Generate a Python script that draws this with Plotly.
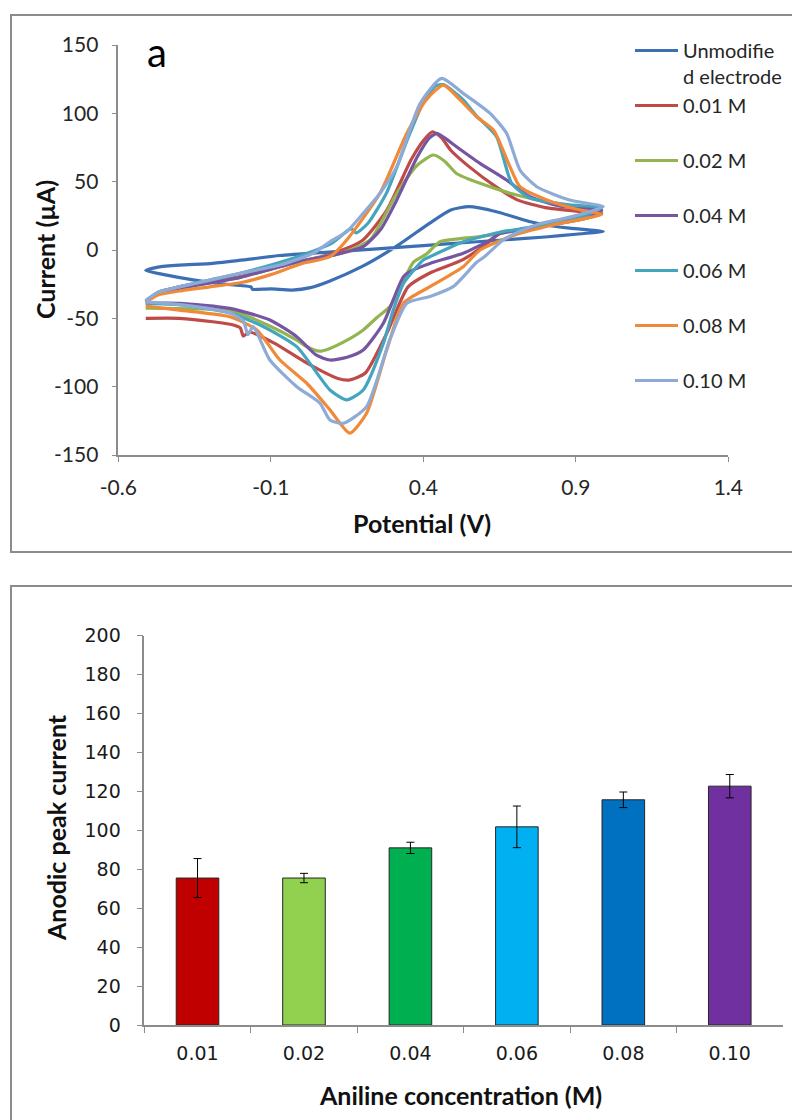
import plotly.graph_objects as go

# ---------------- Top chart: cyclic voltammograms (potential in V, current in µA) ----------------
E_unmod = [-0.51, -0.47, -0.40, -0.29, -0.18, -0.07, 0.09, 0.26, 0.40, 0.53, 0.67, 0.80, 0.90, 0.99,
           0.95, 0.88, 0.80, 0.73, 0.64, 0.55, 0.49, 0.42, 0.31, 0.20, 0.09, 0.03, -0.03, -0.10, -0.14,
           -0.16, -0.165, -0.20, -0.25, -0.35, -0.45, -0.51]
I_unmod = [-15, -12.5, -11, -9.8, -7, -4, -1.5, 1, 3.2, 5.3, 7.5, 9.5, 11.5, 13.5,
           14.5, 16, 18.3, 22, 28, 31.7, 29.3, 19.5, 2.4, -12, -23, -27.5, -29.3, -28.5, -28.8,
           -28.8, -27, -26, -25, -22, -18, -15]

E_001 = [-0.51, -0.47, -0.40, -0.30, -0.20, -0.10, 0.00, 0.10, 0.20, 0.28, 0.36, 0.40, 0.43, 0.46, 0.49,
         0.55, 0.64, 0.71, 0.80, 0.90, 0.985,
         0.93, 0.86, 0.75, 0.65, 0.61, 0.53, 0.42, 0.35, 0.28, 0.21, 0.16, 0.12, 0.02, -0.09, -0.17,
         -0.19, -0.20, -0.22, -0.29, -0.40, -0.51]
I_001 = [-38, -31, -27, -23, -19.5, -14, -8, -3, 7, 29, 66, 80, 86.5, 82, 73,
         61, 46, 36.5, 31, 28.5, 27,
         23, 20, 16, 12, 5, -7, -17, -27, -61, -90, -95, -94, -83, -68, -60,
         -63, -57, -55, -52.5, -50, -50]

E_002 = [-0.51, -0.47, -0.40, -0.30, -0.20, -0.10, 0.00, 0.13, 0.225, 0.313, 0.38, 0.433, 0.47, 0.509,
         0.586, 0.706, 0.86, 0.985,
         0.93, 0.86, 0.75, 0.65, 0.586, 0.455, 0.41, 0.367, 0.33, 0.29, 0.25, 0.203, 0.15, 0.094, 0.06,
         0.02, -0.015, -0.10, -0.234, -0.35, -0.51]
I_002 = [-38, -32, -28, -24, -20, -14, -8, -2.4, 7.3, 41.5, 62, 69.5, 65, 56,
         48.8, 40.2, 33, 29,
         23, 20, 16, 12, 9.8, 6, -3, -9, -25, -41.5, -49, -58.5, -66, -72, -74,
         -71, -66, -56, -44, -43, -42.5]

E_004 = [-0.51, -0.47, -0.40, -0.30, -0.20, -0.10, 0.00, 0.10, 0.203, 0.26, 0.313, 0.38, 0.42, 0.444,
         0.47, 0.509, 0.586, 0.673, 0.75, 0.85, 0.985,
         0.93, 0.86, 0.75, 0.65, 0.619, 0.531, 0.422, 0.367, 0.335, 0.269, 0.203, 0.15, 0.094, 0.05,
         -0.015, -0.103, -0.234, -0.40, -0.51]
I_004 = [-38, -32, -28, -24, -20, -14, -8, -4, 2.4, 15, 36.6, 68, 82, 85.4,
         82, 75.6, 63.4, 51.2, 39, 32, 29,
         24, 21, 16, 12, 7.3, -2.4, -9.8, -14.6, -19.5, -53.6, -73.2, -78.5, -80.5, -77,
         -63.4, -51.2, -42.7, -39, -39]

E_006 = [-0.51, -0.47, -0.40, -0.30, -0.20, -0.10, 0.00, 0.10, 0.154, 0.165, 0.18, 0.22, 0.28, 0.35,
         0.40, 0.44, 0.466, 0.53, 0.575, 0.64, 0.69, 0.75, 0.88, 0.985,
         0.93, 0.86, 0.75, 0.65, 0.531, 0.422, 0.40, 0.335, 0.30, 0.269, 0.203, 0.149, 0.094, -0.015,
         -0.125, -0.234, -0.40, -0.51]
I_006 = [-37, -31, -27, -22, -17, -11, -4, 5, 14.6, 15.5, 12.5, 20, 42, 82,
         108, 120, 121, 110, 98, 83, 48.8, 38, 33, 31,
         25, 21, 16.5, 13, 6, -4.9, -7.3, -24.4, -45, -68.3, -102.4, -109.7, -102.4, -70.7,
         -56, -46, -40, -39]

E_008 = [-0.51, -0.47, -0.40, -0.30, -0.20, -0.10, 0.00, 0.094, 0.149, 0.258, 0.346, 0.41, 0.466, 0.52,
         0.575, 0.63, 0.684, 0.717, 0.805, 0.90, 0.985,
         0.93, 0.86, 0.80, 0.70, 0.586, 0.531, 0.422, 0.335, 0.28, 0.214, 0.159, 0.094, 0.018, -0.07,
         -0.146, -0.234, -0.40, -0.51]
I_008 = [-38, -33, -30, -27, -24, -18, -10, -4.9, 7.3, 41.5, 85.4, 110, 120.7, 110,
         97.5, 87.8, 61, 46.3, 36.6, 30, 26,
         23, 20, 17, 11, 0, -12.2, -26.8, -39, -73.2, -119.5, -134, -117, -97.5, -80.5,
         -58.5, -48.8, -44, -41]

E_010 = [-0.51, -0.47, -0.40, -0.30, -0.20, -0.07, 0.039, 0.094, 0.149, 0.203, 0.258, 0.313, 0.389,
         0.46, 0.531, 0.619, 0.673, 0.717, 0.772, 0.88, 0.99,
         0.93, 0.86, 0.78, 0.72, 0.662, 0.60, 0.575, 0.498, 0.422, 0.346, 0.29, 0.214, 0.138, 0.094,
         0.061, -0.015, -0.103, -0.158, -0.175, -0.19, -0.234, -0.40, -0.51]
I_010 = [-37, -31, -27, -22, -17, -11, -2.4, 6, 13.4, 26.8, 41.5, 61, 107,
         125.6, 114.6, 100, 85.4, 58.5, 46.3, 36.6, 31.7,
         27, 23, 19, 14, 7.3, -5, -9, -26.8, -34, -39, -65.8, -114.6, -126.8, -124.4,
         -112, -100, -80.5, -56, -62, -52, -46, -40, -38]

cv_names = ["Unmodifie<br>d electrode", "0.01 M<br> ", "0.02 M<br> ", "0.04 M<br> ",
            "0.06 M<br> ", "0.08 M<br> ", "0.10 M<br> "]
cv_E = [E_unmod, E_001, E_002, E_004, E_006, E_008, E_010]
cv_I = [I_unmod, I_001, I_002, I_004, I_006, I_008, I_010]
cv_colors = ["#3D6FB5", "#BE4B48", "#92B551", "#7656A2", "#45A5BE", "#F08A38", "#8EABD8"]

# axis ticks of the top chart
pot_ticks = [-0.6, -0.1, 0.4, 0.9, 1.4]
pot_tick_text = ["-0.6", "-0.1", "0.4", "0.9", "1.4"]
cur_ticks = [-150, -100, -50, 0, 50, 100, 150]
cur_tick_text = ["-150", "-100", "-50", "0", "50", "100", "150"]

# ---------------- Bottom chart: anodic peak current vs aniline concentration ----------------
conc_labels = ["0.01", "0.02", "0.04", "0.06", "0.08", "0.10"]
peak_current = [75.5, 75.5, 91.0, 101.8, 115.7, 122.7]
peak_error = [10.0, 2.4, 2.9, 10.7, 4.0, 6.0]
bar_colors = ["#C00000", "#92D050", "#00B050", "#00B0F0", "#0070C0", "#7030A0"]

W, H = 792, 1120
def px(x):
    return x / W
def py(y):
    return 1 - y / H

fig = go.Figure()

for name, E, I, c in zip(cv_names, cv_E, cv_I, cv_colors):
    fig.add_trace(go.Scatter(x=E, y=I, mode="lines", name=name,
                             line=dict(color=c, width=3.2, shape="spline", smoothing=0.6),
                             xaxis="x", yaxis="y"))

fig.add_trace(go.Bar(x=conc_labels, y=peak_current, marker=dict(color=bar_colors,
                     line=dict(color="#262626", width=1)), width=0.4,
                     error_y=dict(type="data", array=peak_error, visible=True, color="#000000",
                                  thickness=1, width=4),
                     showlegend=False, xaxis="x2", yaxis="y2"))

axis_line = "#8C8C8C"
top_font = dict(family="Lato", size=21, color="#262626")
bot_font = dict(family="DejaVu Sans", size=19, color="#1a1a1a")
title_font = dict(family="Lato", size=25, color="#111111")

def title_ann(text, x, y, angle=0):
    return dict(text="<b>%s</b>" % text, xref="paper", yref="paper", x=px(x), y=py(y),
                showarrow=False, font=title_font, textangle=angle,
                xanchor="center", yanchor="middle")

fig.update_layout(
    width=W, height=H, margin=dict(l=0, r=0, t=0, b=0, autoexpand=False),
    paper_bgcolor="white", plot_bgcolor="white",
    showlegend=True,
    legend=dict(x=px(630), y=py(31), xanchor="left", yanchor="top", valign="top",
                font=dict(family="Lato", size=20, color="#262626"), itemwidth=43,
                bgcolor="rgba(0,0,0,0)", traceorder="normal"),
    xaxis=dict(domain=[px(118.3), px(728.3)], range=[-0.6, 1.4],
               tickmode="array", tickvals=pot_ticks, ticktext=pot_tick_text,
               showline=True, linecolor=axis_line, linewidth=1.5, ticks="outside", ticklen=5,
               tickcolor=axis_line, showgrid=False, zeroline=False, tickfont=top_font,
               ticklabelstandoff=8, anchor="y"),
    yaxis=dict(domain=[py(455), py(45)], range=[-150, 150],
               tickmode="array", tickvals=cur_ticks, ticktext=cur_tick_text,
               showline=True, linecolor=axis_line, linewidth=1.5, ticks="outside", ticklen=5,
               tickcolor=axis_line, showgrid=False, zeroline=False, tickfont=top_font,
               ticklabelstandoff=9, anchor="x"),
    xaxis2=dict(domain=[px(144.3), px(783)], range=[-0.5, 5.5], type="category",
                showline=True, linecolor=axis_line, linewidth=1.5, ticks="outside", ticklen=6,
                tickcolor=axis_line, tickson="boundaries", showgrid=False, zeroline=False,
                tickfont=bot_font, ticklabelstandoff=10, anchor="y2"),
    yaxis2=dict(domain=[py(1025), py(635.7)], range=[0, 200], dtick=20,
                showline=True, linecolor=axis_line, linewidth=1.5, ticks="outside", ticklen=6,
                tickcolor=axis_line, showgrid=False, zeroline=False, tickfont=bot_font,
                ticklabelstandoff=12, anchor="x2"),
    shapes=[
        dict(type="rect", xref="paper", yref="paper", x0=px(11), x1=px(810), y0=py(552), y1=py(15),
             line=dict(color="#8C8C8C", width=2), fillcolor="rgba(0,0,0,0)", layer="below"),
        dict(type="rect", xref="paper", yref="paper", x0=px(11), x1=px(810), y0=py(1140), y1=py(586),
             line=dict(color="#8C8C8C", width=2), fillcolor="rgba(0,0,0,0)", layer="below"),
    ],
    annotations=[
        dict(text="a", xref="paper", yref="paper", x=px(157), y=py(52), showarrow=False,
             font=dict(family="Lato", size=40, color="#000000"), xanchor="center", yanchor="middle"),
        title_ann("Potential (V)", 422, 523),
        title_ann("Current (µA)", 45, 250, -90),
        title_ann("Aniline concentration (M)", 460, 1095),
        title_ann("Anodic peak current", 56, 828, -90),
    ],
)

fig.write_html("out.html")
